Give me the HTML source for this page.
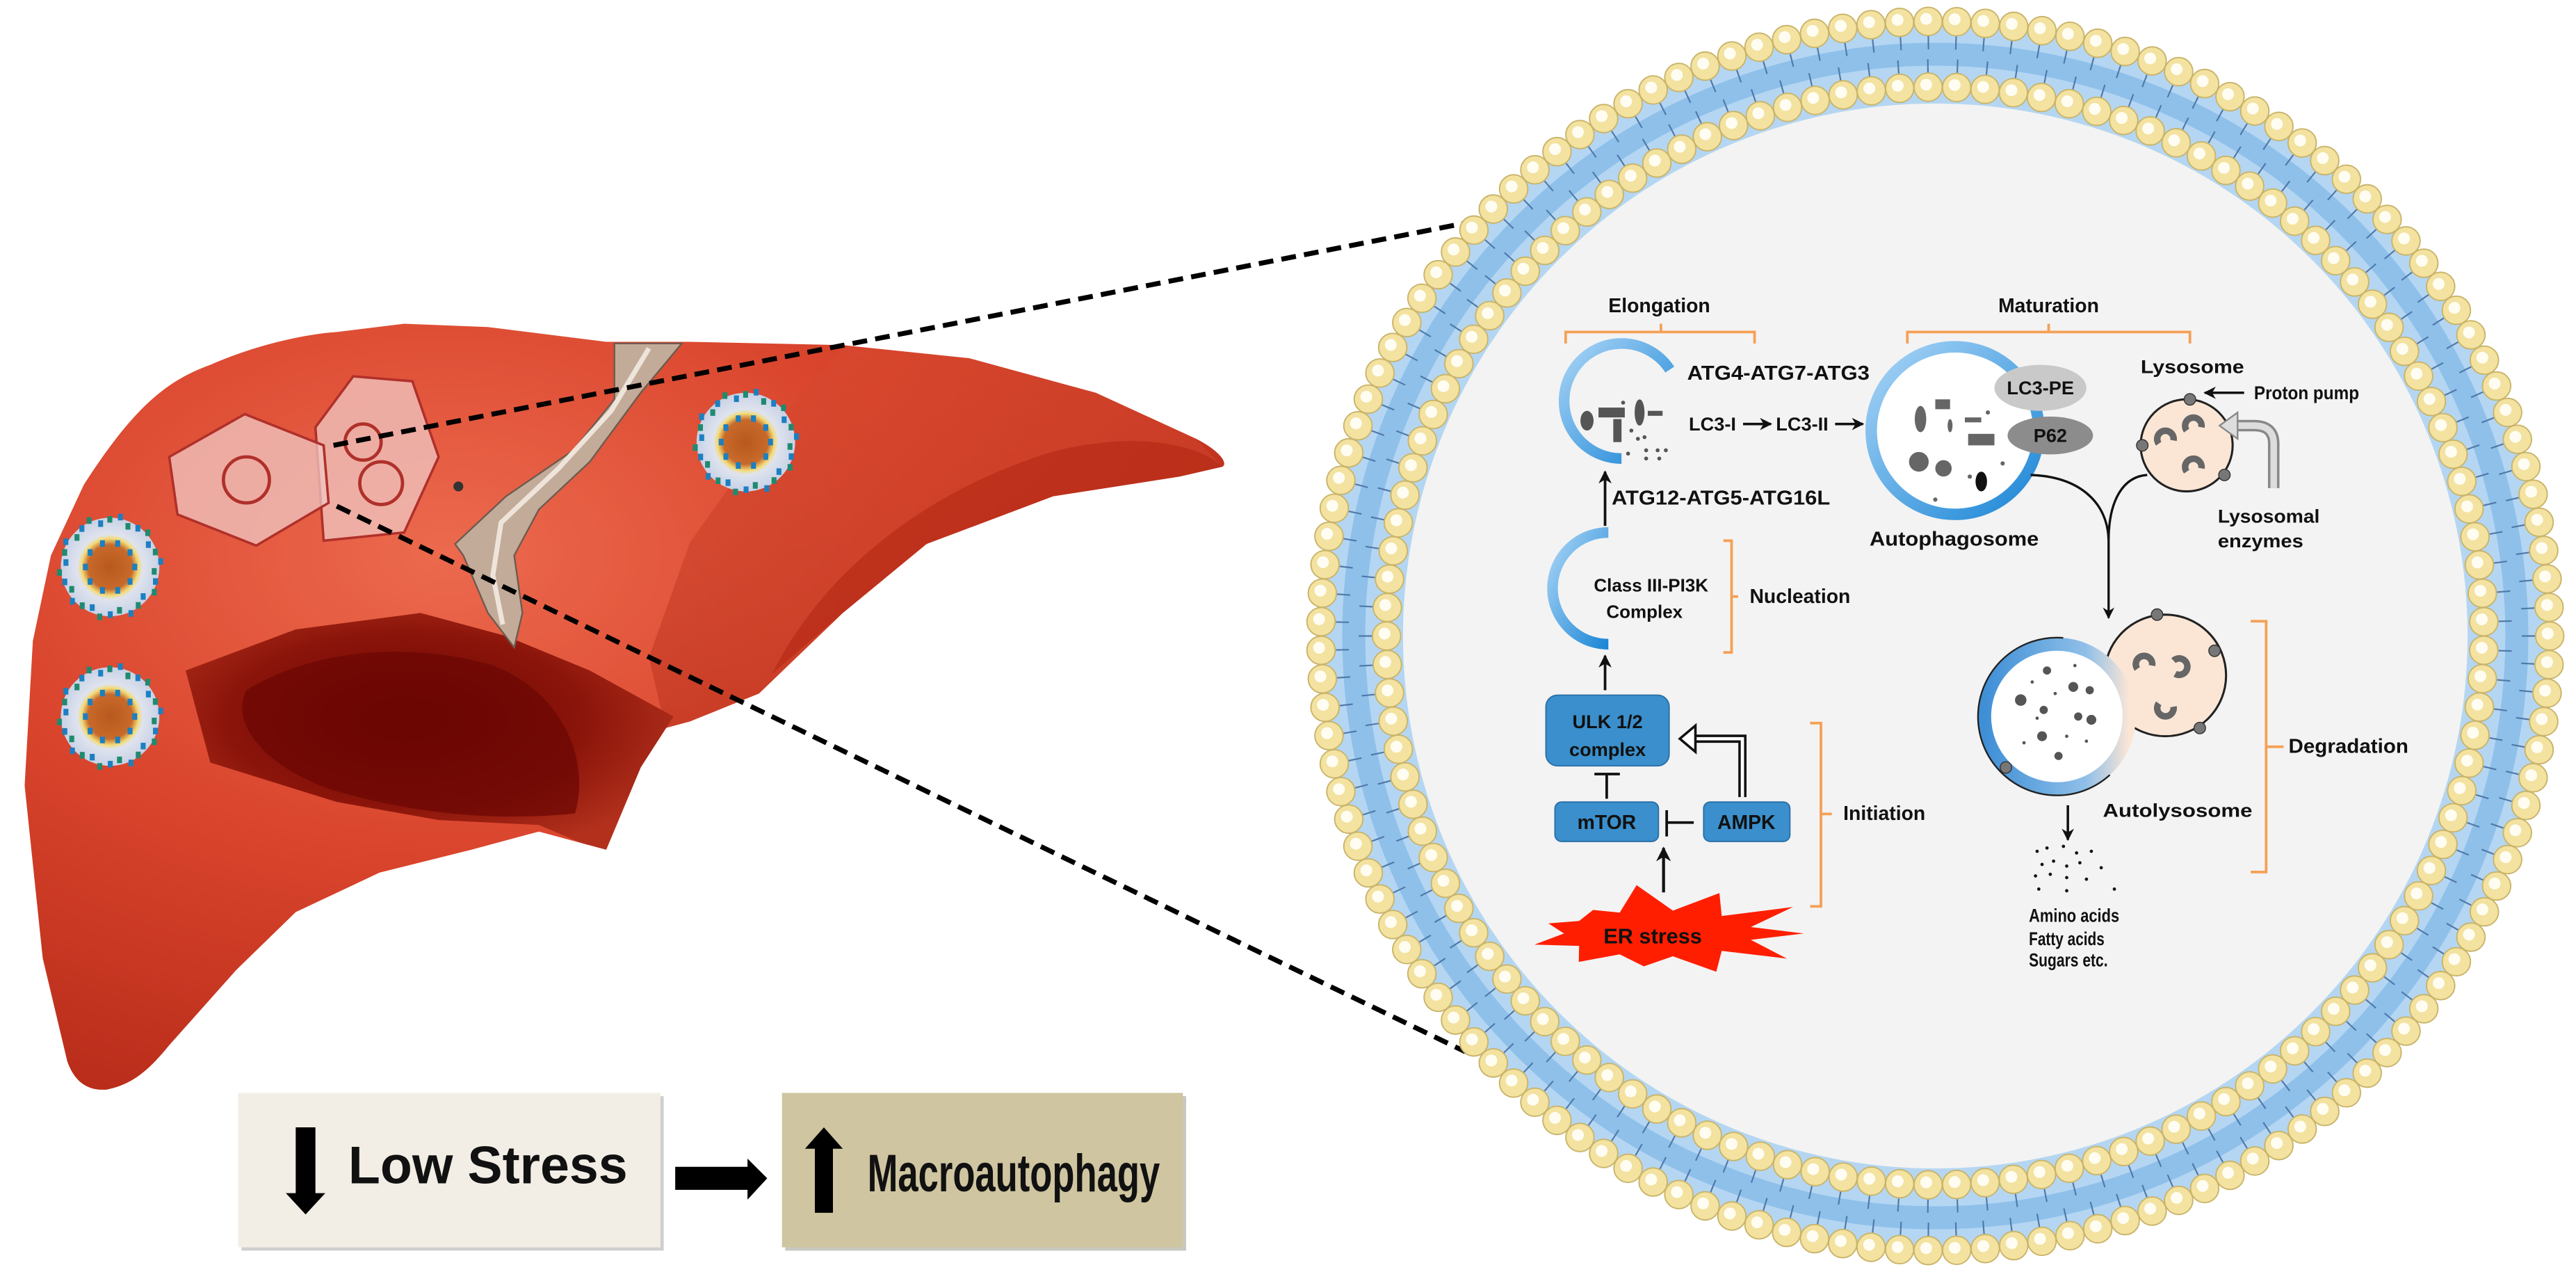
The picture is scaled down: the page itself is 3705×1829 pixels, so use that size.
<!DOCTYPE html>
<html><head><meta charset="utf-8">
<style>
html,body{margin:0;padding:0;background:#fff;}
svg{display:block;}
text{font-family:"Liberation Sans",Arial,sans-serif;font-weight:bold;fill:#111;}
</style></head>
<body>
<svg id="s" width="3705" height="1829" viewBox="0 0 1568 774" preserveAspectRatio="none" xmlns="http://www.w3.org/2000/svg">
<defs>
  <radialGradient id="liv" cx="0.35" cy="0.3" r="0.8">
    <stop offset="0" stop-color="#ec6a4e"/>
    <stop offset="0.5" stop-color="#d9442c"/>
    <stop offset="1" stop-color="#b52a18"/>
  </radialGradient>
  <radialGradient id="cave" cx="0.45" cy="0.45" r="0.6">
    <stop offset="0" stop-color="#6e0604"/>
    <stop offset="0.6" stop-color="#8a140a"/>
    <stop offset="1" stop-color="#b2301c"/>
  </radialGradient>
  <linearGradient id="rl" x1="0" y1="0" x2="0" y2="1">
    <stop offset="0" stop-color="#d84a30"/>
    <stop offset="1" stop-color="#b8301c"/>
  </linearGradient>
  <linearGradient id="bl" x1="0" y1="0" x2="1" y2="1">
    <stop offset="0" stop-color="#a8d4f6"/>
    <stop offset="1" stop-color="#1b86d6"/>
  </linearGradient>
  <linearGradient id="bl2" x1="0" y1="0" x2="1" y2="0">
    <stop offset="0" stop-color="#3f8fd6"/>
    <stop offset="0.7" stop-color="#8fbfe8"/>
    <stop offset="1" stop-color="#fbe6d6"/>
  </linearGradient>
  <radialGradient id="np" cx="0.5" cy="0.5" r="0.5">
    <stop offset="0" stop-color="#b8581e"/>
    <stop offset="0.45" stop-color="#c86a2a"/>
    <stop offset="0.58" stop-color="#f2dc7a"/>
    <stop offset="0.66" stop-color="#dfe3ee"/>
    <stop offset="1" stop-color="#c8d2e6"/>
  </radialGradient>
  <marker id="ah" viewBox="0 0 10 10" refX="9" refY="5" markerWidth="5" markerHeight="5" orient="auto">
    <path d="M0,0 L10,5 L0,10 L3,5 z" fill="#111"/>
  </marker>
</defs>

<!-- ===== LIVER ===== -->
<path d="M51,295 C80,250 100,232 128,222 C160,208 190,203 205,202 L246,197 L297,199 L369,208 L420,208 L513,210 L590,218 L667,239 L728,267 C742,274 748,282 744,284 L718,290 L641,302 L564,331 L513,373 L462,422 L420,439 L405,443 L390,467 L369,517 L354,513 L328,506 L287,517 L231,531 L180,555 L144,590 L103,636 C90,652 80,660 65,663 C52,664 45,657 41,646 L26,583 L15,478 L20,390 L31,338 Z" fill="url(#liv)"/>
<path d="M513,210 L590,218 L667,239 L728,267 L744,284 L718,290 L641,302 L564,331 L513,373 L462,422 L420,439 L405,443 L395,400 L420,330 L470,260 Z" fill="url(#rl)" opacity="0.55"/>
<path d="M640,275 C690,262 730,270 744,284 L718,290 L641,302 L564,331 L513,373 L470,410 C500,350 560,300 640,275 Z" fill="#b32814" opacity="0.6"/>
<path d="M113,408 L180,383 L256,373 L308,387 L359,408 L410,436 L390,467 L369,517 L354,513 L328,502 L267,499 L205,488 L128,464 Z" fill="url(#cave)"/>
<path d="M150,420 C190,395 250,390 300,405 C340,420 360,460 350,495 C300,500 250,495 200,480 C160,465 140,440 150,420 Z" fill="#6a0503" opacity="0.7"/>
<path d="M374,209 L415,209 L390,239 L359,281 L328,310 L313,338 L318,373 L313,394 L297,373 L282,338 L277,331 L308,302 L349,274 L374,243 Z" fill="#c2ab98" stroke="#6d5a50" stroke-width="1"/>
<path d="M395,212 L372,250 L340,285 L305,318 L300,350 L306,380" fill="none" stroke="#eee4da" stroke-width="3"/>
<circle cx="279" cy="296" r="3" fill="#333"/>

<g fill="#f0c8c4" fill-opacity="0.75" stroke="#b0302a" stroke-width="1.5">
  <polygon points="192,260 215,229 251,232 267,278 246,324 197,329"/>
  <polygon points="103,278 149,252 197,271 200,306 156,332 108,313"/>
</g>
<g fill="none" stroke="#b0302a" stroke-width="2">
  <circle cx="150" cy="292" r="14"/>
  <circle cx="221" cy="269" r="11"/>
  <circle cx="232" cy="294" r="13"/>
</g>

<g id="nps"></g>

<g stroke="#000" stroke-width="3" stroke-dasharray="9,5" fill="none">
  <line x1="203" y1="271" x2="906" y2="133"/>
  <line x1="205" y1="308" x2="892" y2="640"/>
</g>

<!-- ===== BOTTOM BOXES ===== -->
<rect x="147" y="667" width="257" height="94" fill="#cfcfcf"/>
<rect x="145" y="665" width="257" height="94" fill="#f2eee6"/>
<rect x="478" y="667" width="244" height="94" fill="#c8c8c0"/>
<rect x="476" y="665" width="244" height="94" fill="#cfc5a0"/>
<polygon points="180,686 192,686 192,726 198,726 186,739 174,726 180,726" fill="#000"/>
<text x="212" y="720" font-size="32" textLength="170" lengthAdjust="spacingAndGlyphs">Low Stress</text>
<polygon points="411,710 455,710 455,705 467,717 455,730 455,724 411,724" fill="#000"/>
<polygon points="496,738 507,738 507,699 513,699 501.5,686 490,699 496,699" fill="#000"/>
<text x="528" y="725" font-size="32" textLength="178" lengthAdjust="spacingAndGlyphs">Macroautophagy</text>

<!-- ===== CELL CIRCLE ===== -->
<circle cx="1178" cy="387" r="375" fill="#b4d6f2"/>
<circle cx="1178" cy="387" r="354" fill="none" stroke="#8ec0ea" stroke-width="14"/>
<g id="mem"></g>
<circle cx="1178" cy="387" r="324" fill="#f3f3f3"/>

<text x="1010" y="190" font-size="12" text-anchor="middle">Elongation</text>
<path d="M953,209 L953,202 L1068,202 L1068,209 M1011,202 L1011,197" fill="none" stroke="#f5a055" stroke-width="1.6"/>
<path d="M1016.4,224.9 A35,35 0 1 0 987,279" fill="none" stroke="url(#bl)" stroke-width="6.5"/>
<g fill="#555">
  <rect x="973" y="248" width="16" height="6"/>
  <rect x="982" y="255" width="5" height="14"/>
  <ellipse cx="966" cy="256" rx="4" ry="6"/>
  <ellipse cx="998" cy="251" rx="3" ry="8"/>
  <rect x="1003" y="250" width="9" height="3"/>
  <circle cx="988" cy="245" r="1.2"/><circle cx="993" cy="262" r="1.2"/>
  <circle cx="997" cy="267" r="1.2"/><circle cx="1001" cy="266" r="1.2"/>
  <circle cx="991" cy="276" r="1.2"/><circle cx="1002" cy="274" r="1.2"/><circle cx="1002" cy="279" r="1.2"/><circle cx="1009" cy="274" r="1.2"/><circle cx="1014" cy="274" r="1.2"/><circle cx="1010" cy="279" r="1.2"/>
</g>
<text x="1027" y="231" font-size="12" textLength="111" lengthAdjust="spacingAndGlyphs">ATG4-ATG7-ATG3</text>
<text x="1028" y="262" font-size="11.5">LC3-I</text>
<line x1="1061" y1="258" x2="1078" y2="258" stroke="#111" stroke-width="1.5" marker-end="url(#ah)"/>
<text x="1081" y="262" font-size="11.5">LC3-II</text>
<line x1="1117" y1="258" x2="1134" y2="258" stroke="#111" stroke-width="1.5" marker-end="url(#ah)"/>
<line x1="977" y1="320" x2="977" y2="287" stroke="#111" stroke-width="1.6" marker-end="url(#ah)"/>
<text x="981" y="307" font-size="12" textLength="133" lengthAdjust="spacingAndGlyphs">ATG12-ATG5-ATG16L</text>

<path d="M979,324 A34,34 0 0 0 979,392" fill="none" stroke="url(#bl)" stroke-width="6.5"/>
<text x="1005" y="360" font-size="11" text-anchor="middle">Class III-PI3K</text>
<text x="1001" y="376" font-size="11" text-anchor="middle">Complex</text>
<path d="M1049,329 L1054,329 L1054,397 L1049,397 M1054,363 L1058,363" fill="none" stroke="#f5a055" stroke-width="1.6"/>
<text x="1065" y="367" font-size="12">Nucleation</text>

<line x1="977" y1="420" x2="977" y2="399" stroke="#111" stroke-width="1.6" marker-end="url(#ah)"/>
<rect x="941" y="423" width="75" height="43" rx="7" fill="#3a8fcc" stroke="#2a70a8" stroke-width="0.8"/>
<text x="978.5" y="443" font-size="11.5" text-anchor="middle">ULK 1/2</text>
<text x="978.5" y="460" font-size="11.5" text-anchor="middle">complex</text>
<path d="M978,486 L978,471 M970.5,471 L986,471" stroke="#111" stroke-width="1.6" fill="none"/>
<rect x="946.5" y="488" width="63" height="24" rx="4" fill="#3a8fcc" stroke="#2a70a8" stroke-width="0.8"/>
<text x="978" y="504.5" font-size="12" text-anchor="middle">mTOR</text>
<rect x="1037" y="488" width="52.5" height="24" rx="4" fill="#3a8fcc" stroke="#2a70a8" stroke-width="0.8"/>
<text x="1063" y="504.5" font-size="12" text-anchor="middle">AMPK</text>
<path d="M1031,500.5 L1014.5,500.5 M1014.5,493 L1014.5,509" stroke="#111" stroke-width="1.6" fill="none"/>
<path d="M1060.6,485 L1060.6,449.5 L1031,449.5" fill="none" stroke="#111" stroke-width="5"/>
<path d="M1060.6,485 L1060.6,449.5 L1031,449.5" fill="none" stroke="#fff" stroke-width="2"/>
<polygon points="1022.5,449.5 1032,441.5 1032,457.5" fill="#fff" stroke="#111" stroke-width="1.5"/>
<line x1="1012.6" y1="543" x2="1012.6" y2="516" stroke="#111" stroke-width="1.8" marker-end="url(#ah)"/>
<polygon id="star" fill="#ff1e00"/>
<text x="1006" y="574" font-size="13" text-anchor="middle">ER stress</text>
<path d="M1101.8,440 L1108.4,440 L1108.4,551.5 L1101.8,551.5 M1108.4,495.3 L1115,495.3" fill="none" stroke="#f5a055" stroke-width="1.6"/>
<text x="1122" y="499" font-size="12">Initiation</text>

<text x="1247" y="190" font-size="12" text-anchor="middle">Maturation</text>
<path d="M1161,209 L1161,202 L1333,202 L1333,209 M1247,202 L1247,197" fill="none" stroke="#f5a055" stroke-width="1.6"/>
<circle cx="1190" cy="262" r="51" fill="#fff" stroke="url(#bl)" stroke-width="7"/>
<g fill="#666">
  <ellipse cx="1169" cy="255" rx="3.5" ry="8"/>
  <rect x="1178" y="243" width="9" height="6"/>
  <rect x="1196" y="254" width="10" height="3"/>
  <ellipse cx="1187" cy="259" rx="1.5" ry="4"/>
  <rect x="1198" y="264" width="16" height="7"/>
  <circle cx="1168" cy="281" r="6"/>
  <circle cx="1183" cy="285" r="5"/>
  <ellipse cx="1206" cy="293" rx="3.5" ry="6" fill="#111"/>
  <circle cx="1210" cy="251" r="1.3"/><circle cx="1199" cy="290" r="1.3"/><circle cx="1178" cy="304" r="1.3"/><circle cx="1219" cy="282" r="1.3"/>
</g>
<ellipse cx="1242" cy="236" rx="28" ry="14" fill="#c9c9c9"/>
<text x="1242" y="240" font-size="11.5" text-anchor="middle">LC3-PE</text>
<ellipse cx="1248" cy="265" rx="26" ry="11.5" fill="#8c8c8c"/>
<text x="1248" y="269" font-size="11.5" text-anchor="middle">P62</text>
<text x="1138" y="332" font-size="12" textLength="103" lengthAdjust="spacingAndGlyphs">Autophagosome</text>

<text x="1303" y="227" font-size="11.5" textLength="63" lengthAdjust="spacingAndGlyphs">Lysosome</text>
<circle cx="1331" cy="271" r="28" fill="#fbe6d6" stroke="#222" stroke-width="1.3"/>
<g fill="none" stroke="#666" stroke-width="4">
  <path d="M1314,270 a5,5 0 1 1 9,-2"/>
  <path d="M1331,262 a5,5 0 1 1 9,-2"/>
  <path d="M1331,287 a5,5 0 1 1 9,-2"/>
</g>
<g fill="#777" stroke="#333" stroke-width="0.6">
  <circle cx="1333" cy="243" r="3.5"/><circle cx="1304" cy="271" r="3.5"/><circle cx="1354" cy="289" r="3.5"/>
</g>
<line x1="1366" y1="239" x2="1342" y2="239" stroke="#111" stroke-width="1.5" marker-end="url(#ah)"/>
<text x="1372" y="243" font-size="11.5" textLength="64" lengthAdjust="spacingAndGlyphs">Proton pump</text>
<path d="M1384,297 L1384,270 Q1384,259 1372,259 L1361,259" fill="none" stroke="#888" stroke-width="7"/>
<path d="M1384,297 L1384,270 Q1384,259 1372,259 L1361,259" fill="none" stroke="#ddd" stroke-width="4"/>
<polygon points="1351,259 1362,251 1362,267" fill="#ddd" stroke="#888" stroke-width="1"/>
<text x="1350" y="318" font-size="11.5" textLength="62" lengthAdjust="spacingAndGlyphs">Lysosomal</text>
<text x="1350" y="333" font-size="11.5" textLength="52" lengthAdjust="spacingAndGlyphs">enzymes</text>
<path d="M1236,289 C1265,290 1283,305 1283.5,329 M1307,289 C1292,290 1283.5,305 1283.5,329 L1283.5,376" fill="none" stroke="#111" stroke-width="1.4" marker-end="url(#ah)"/>

<circle cx="1318" cy="411" r="37" fill="#fbe6d6" stroke="#222" stroke-width="1.3"/>
<circle cx="1252" cy="436" r="44" fill="#fff" stroke="url(#bl2)" stroke-width="8"/>
<circle cx="1252" cy="436" r="48" fill="none" stroke="#222" stroke-width="1" stroke-dasharray="190,120" stroke-dashoffset="-40"/>
<g fill="none" stroke="#666" stroke-width="4">
  <path d="M1301,407 a5,5 0 1 1 9,-2"/>
  <path d="M1324,410 a5,5 0 1 0 -1,-8"/>
  <path d="M1314,428 a5,5 0 1 0 9,2"/>
</g>
<g fill="#555">
  <circle cx="1246" cy="408" r="2.5"/><circle cx="1230" cy="426" r="3.5"/><circle cx="1262" cy="418" r="3"/>
  <circle cx="1265" cy="436" r="2.5"/><circle cx="1273" cy="438" r="3"/><circle cx="1243" cy="448" r="3"/>
  <circle cx="1253" cy="460" r="2.5"/><circle cx="1237" cy="415" r="1"/><circle cx="1251" cy="422" r="1"/>
  <circle cx="1240" cy="437" r="1"/><circle cx="1258" cy="448" r="1"/><circle cx="1270" cy="451" r="1"/><circle cx="1232" cy="452" r="1"/>
  <circle cx="1272" cy="420" r="2.5"/><circle cx="1244" cy="432" r="2.5"/><circle cx="1263" cy="405" r="1"/>
</g>
<g fill="#777" stroke="#333" stroke-width="0.6">
  <circle cx="1313" cy="374" r="3.5"/><circle cx="1348" cy="396" r="3.5"/><circle cx="1339" cy="443" r="3.5"/><circle cx="1221" cy="467" r="3.5"/>
</g>
<text x="1280" y="497" font-size="11.5" textLength="91" lengthAdjust="spacingAndGlyphs">Autolysosome</text>
<path d="M1370,378 L1379.4,378 L1379.4,530.6 L1370,530.6 M1379.4,454.4 L1390,454.4" fill="none" stroke="#f5a055" stroke-width="1.6"/>
<text x="1393" y="458" font-size="12" textLength="73" lengthAdjust="spacingAndGlyphs">Degradation</text>
<line x1="1258.7" y1="490" x2="1258.7" y2="511" stroke="#111" stroke-width="1.5" marker-end="url(#ah)"/>
<g fill="#111">
  <circle cx="1240" cy="518" r="1"/><circle cx="1246" cy="516" r="1"/><circle cx="1256" cy="515" r="1"/><circle cx="1264" cy="519" r="1"/><circle cx="1273" cy="518" r="1"/>
  <circle cx="1243" cy="526" r="1"/><circle cx="1250" cy="524" r="1"/><circle cx="1258" cy="527" r="1"/><circle cx="1266" cy="525" r="1"/><circle cx="1279" cy="528" r="1"/>
  <circle cx="1239" cy="533" r="1"/><circle cx="1248" cy="532" r="1"/><circle cx="1258" cy="534" r="1"/><circle cx="1270" cy="535" r="1"/>
  <circle cx="1241" cy="541" r="1"/><circle cx="1258" cy="542" r="1"/><circle cx="1287" cy="541" r="1"/>
</g>
<text x="1235" y="561" font-size="11.5" textLength="55" lengthAdjust="spacingAndGlyphs">Amino acids</text>
<text x="1235" y="575" font-size="11.5" textLength="46" lengthAdjust="spacingAndGlyphs">Fatty acids</text>
<text x="1235" y="588" font-size="11.5" textLength="48" lengthAdjust="spacingAndGlyphs">Sugars etc.</text>
</svg>
<script>
(function(){
var NS="http://www.w3.org/2000/svg";
function el(t,a,p){var e=document.createElementNS(NS,t);for(var k in a)e.setAttribute(k,a[k]);p.appendChild(e);return e;}
var mem=document.getElementById('mem');
var cx=1178,cy=387;
function ring(R,n,dir,off){
  for(var i=0;i<n;i++){
    var a=(i+off)/n*2*Math.PI, c=Math.cos(a), s=Math.sin(a);
    var r1=R+dir*9, r2=R+dir*17;
    el('line',{x1:cx+r1*c,y1:cy+r1*s,x2:cx+r2*c,y2:cy+r2*s,stroke:'#4f78a8','stroke-width':0.9},mem);
  }
}
ring(374,135,-1,0);ring(334,121,1,0.5);
function beads(R,n,off){
  for(var i=0;i<n;i++){
    var a=(i+off)/n*2*Math.PI, x=cx+R*Math.cos(a), y=cy+R*Math.sin(a);
    el('circle',{cx:x,cy:y,r:8.6,fill:'#f3e2a0',stroke:'#c9b46a','stroke-width':0.8},mem);
    el('circle',{cx:x-1.2,cy:y-1.5,r:3.6,fill:'#fffdf2'},mem);
  }
}
beads(374,135,0);beads(334,121,0.5);
var pts=[],n=22,rad=[[88,27],[58,14]];
var v=[1,0.8,1.05,0.7,0.95,1.1,0.75,1,0.85,1.15,0.9,1,0.8,1.05,0.7,0.95,1.1,0.75,1,0.85,1.1,0.9];
for(var i=0;i<n;i++){
  var a=i/n*2*Math.PI, o=(i%2==0);
  var rx=o?rad[0][0]*v[i]:rad[1][0], ry=o?rad[0][1]*v[i]:rad[1][1];
  pts.push((1010+rx*Math.cos(a)).toFixed(1)+','+(568+ry*Math.sin(a)).toFixed(1));
}
document.getElementById('star').setAttribute('points',pts.join(' '));
var g=document.getElementById('nps');
[[454,269],[67,345],[67,436]].forEach(function(p){
  el('circle',{cx:p[0],cy:p[1],r:30,fill:'url(#np)'},g);
  for(var i=0;i<30;i++){
    var a=i/30*2*Math.PI+0.1, r=27+(i%3)*2;
    el('rect',{x:p[0]+r*Math.cos(a)-1.5,y:p[1]+r*Math.sin(a)-2,width:3,height:4,fill:(i%2?'#1c7fc0':'#1f8a70')},g);
  }
  for(var j=0;j<10;j++){
    var b=j/10*2*Math.PI, q=15;
    el('rect',{x:p[0]+q*Math.cos(b)-1.5,y:p[1]+q*Math.sin(b)-2,width:3,height:4,fill:'#1c7fc0'},g);
  }
});
})();
</script>
</body></html>
